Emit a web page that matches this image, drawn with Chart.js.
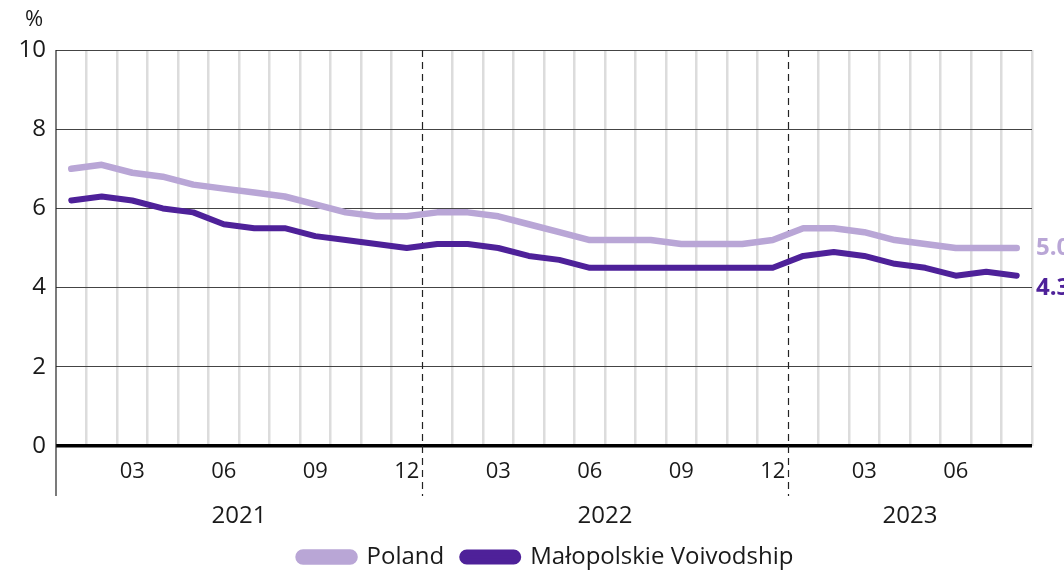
<!DOCTYPE html>
<html>
<head>
<meta charset="utf-8">
<script src="https://cdn.jsdelivr.net/npm/chart.js@4/dist/chart.umd.min.js"></script>
<style>
  html, body { margin: 0; padding: 0; background: #fff; }
  #wrap { width: 1064px; height: 570px; }
</style>
</head>
<body>
<div id="wrap"><canvas id="rateChart"></canvas></div>
<script>
// unemployment rate, monthly 2021-01 .. 2023-08
const months = [
    '2021-01', '2021-02', '2021-03', '2021-04', '2021-05', '2021-06',
    '2021-07', '2021-08', '2021-09', '2021-10', '2021-11', '2021-12',
    '2022-01', '2022-02', '2022-03', '2022-04', '2022-05', '2022-06',
    '2022-07', '2022-08', '2022-09', '2022-10', '2022-11', '2022-12',
    '2023-01', '2023-02', '2023-03', '2023-04', '2023-05', '2023-06',
    '2023-07', '2023-08'
];
const years = ['2021', '2022', '2023'];
const poland = [
    7.0, 7.1, 6.9, 6.8, 6.6, 6.5, 6.4, 6.3, 6.1, 5.9, 5.8, 5.8,
    5.9, 5.9, 5.8, 5.6, 5.4, 5.2, 5.2, 5.2, 5.1, 5.1, 5.1, 5.2,
    5.5, 5.5, 5.4, 5.2, 5.1, 5.0, 5.0, 5.0
];
const malopolska = [
    6.2, 6.3, 6.2, 6.0, 5.9, 5.6, 5.5, 5.5, 5.3, 5.2, 5.1, 5.0,
    5.1, 5.1, 5.0, 4.8, 4.7, 4.5, 4.5, 4.5, 4.5, 4.5, 4.5, 4.5,
    4.8, 4.9, 4.8, 4.6, 4.5, 4.3, 4.4, 4.3
];
const yTicks = [0, 2, 4, 6, 8, 10];

const FONT = "'Open Sans', sans-serif";
const TEXT = '#1a1a1a';
const LIGHT = '#b9a6d6';
const DARK = '#4e2199';

// year separators, year labels, "%" and end labels
const extras = {
    id: 'extras',
    afterLayout(chart) {
        // legend sits a bit right of the canvas centre
        if (chart.legend) {
            chart.legend.left += 30;
            chart.legend.right += 30;
        }
    },
    beforeDatasetsDraw(chart) {
        const { ctx, chartArea, scales: { x } } = chart;
        ctx.save();
        ctx.strokeStyle = '#222';
        ctx.lineWidth = 1.2;
        // left axis runs down past the month labels
        ctx.beginPath();
        ctx.moveTo(chartArea.left, chartArea.top);
        ctx.lineTo(chartArea.left, chartArea.bottom + 50);
        ctx.stroke();
        ctx.setLineDash([7, 5]);
        [12, 24].forEach(i => {
            const px = Math.round((x.getPixelForValue(i - 1) + x.getPixelForValue(i)) / 2) + 0.5;
            ctx.beginPath();
            ctx.moveTo(px, chartArea.top);
            ctx.lineTo(px, chartArea.bottom + 50);
            ctx.stroke();
        });
        ctx.restore();
    },
    afterDraw(chart) {
        const { ctx, chartArea, scales: { x, y } } = chart;
        ctx.save();
        ctx.fillStyle = TEXT;
        ctx.font = '24px ' + FONT;
        ctx.textAlign = 'center';
        ctx.textBaseline = 'middle';
        years.forEach(yr => {
            const idx = months.map((m, i) => m.startsWith(yr) ? i : -1).filter(i => i >= 0);
            const cx = (x.getPixelForValue(idx[0]) + x.getPixelForValue(idx[idx.length - 1])) / 2;
            ctx.fillText(yr, cx, chartArea.bottom + 70);
        });
        ctx.font = '22px ' + FONT;
        ctx.fillText('%', chartArea.left - 22, chartArea.top - 30);

        // end-of-line value labels
        ctx.font = 'bold 24px ' + FONT;
        ctx.textAlign = 'left';
        const last = months.length - 1;
        ctx.fillStyle = LIGHT;
        ctx.fillText(poland[last].toFixed(1), chartArea.right + 4, y.getPixelForValue(poland[last]));
        ctx.fillStyle = DARK;
        ctx.fillText(malopolska[last].toFixed(1), chartArea.right + 4, y.getPixelForValue(malopolska[last]) + 12);
        ctx.restore();
    }
};

const ctxRate = document.getElementById('rateChart').getContext('2d');

const rateChart = new Chart(ctxRate, {
    type: 'line',
    data: {
        labels: months,
        datasets: [{
            label: 'Poland',
            data: poland,
            borderColor: LIGHT,
            backgroundColor: LIGHT,
            borderWidth: 6.5
        }, {
            label: 'Małopolskie Voivodship',
            data: malopolska,
            borderColor: DARK,
            backgroundColor: DARK,
            borderWidth: 6
        }]
    },
    options: {
        responsive: true,
        maintainAspectRatio: false,
        animation: false,
        devicePixelRatio: 1,
        layout: { padding: { top: 50, right: 32, left: 0, bottom: -9 } },
        elements: {
            point: { radius: 0, hoverRadius: 0 },
            line: { tension: 0, borderCapStyle: 'round', borderJoinStyle: 'round' }
        },
        plugins: {
            tooltip: { enabled: false },
            legend: {
                position: 'bottom',
                labels: {
                    color: TEXT,
                    font: { family: FONT, size: 24 },
                    boxWidth: 56,
                    boxHeight: 9,
                    useBorderRadius: true,
                    borderRadius: 4.5,
                    padding: 18
                }
            }
        },
        scales: {
            x: {
                type: 'category',
                offset: true,
                afterFit: s => { s.height = 81; },
                border: { display: false },
                grid: {
                    offset: true,
                    drawTicks: false,
                    lineWidth: 2.5,
                    color: c => (c.index % 12 === 0 || c.index >= months.length) ? 'rgba(0,0,0,0)' : '#dcdcdc'
                },
                ticks: {
                    autoSkip: false,
                    maxRotation: 0,
                    padding: 13,
                    color: TEXT,
                    font: { family: FONT, size: 22 },
                    callback: function (v, i) {
                        const m = months[i].slice(5);
                        return (+m % 3 === 0) ? m : '';
                    }
                }
            },
            y: {
                min: 0,
                max: 10,
                afterFit: s => { s.width = 56; },
                afterBuildTicks: s => { s.ticks = yTicks.map(v => ({ value: v })); },
                border: { display: false },
                grid: {
                    drawTicks: false,
                    color: c => c.tick && c.tick.value === 0 ? '#000' : '#444',
                    lineWidth: c => c.tick && c.tick.value === 0 ? 3.5 : 1
                },
                ticks: {
                    padding: 10,
                    color: TEXT,
                    font: { family: FONT, size: 24 }
                }
            }
        }
    },
    plugins: [extras]
});
</script>
</body>
</html>
